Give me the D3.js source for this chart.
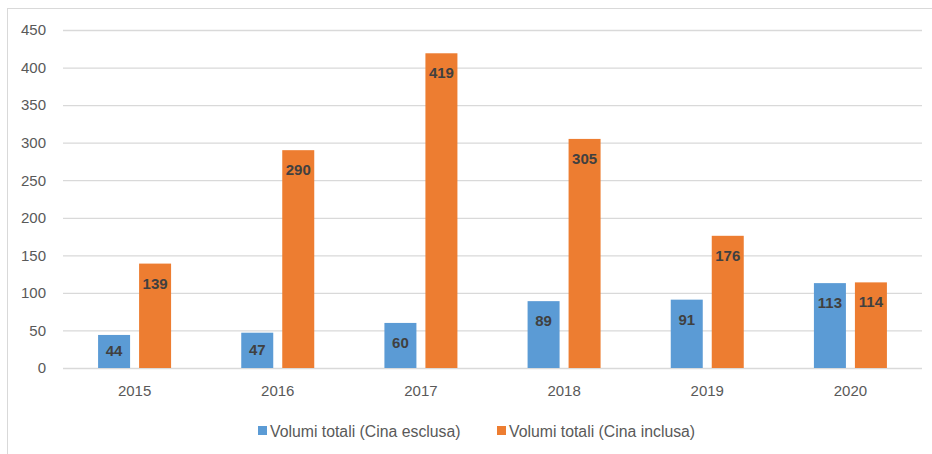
<!DOCTYPE html>
<html>
  <head>
    <meta charset="utf-8">
    <title>Volumi totali</title>
    <style>
      body { margin: 0; background: #fff; }
      text { font-family: "Liberation Sans", Arial, sans-serif; }
      .tick text { fill: #595959; font-size: 15px; }
      .bar-label { font-size: 15px; font-weight: bold; fill: #404040; text-anchor: middle; }
      .legend text { font-size: 15.8px; fill: #595959; }
    </style>
  </head>
  <body>
    <div id="chart"></div>
    <script src="https://d3js.org/d3.v7.min.js"></script>
    <script>
    // data
    var years = ['2015', '2016', '2017', '2018', '2019', '2020'];
    var esclusa = [44, 47, 60, 89, 91, 113];
    var inclusa = [139, 290, 419, 305, 176, 114];
    var seriesNames = ['Volumi totali (Cina esclusa)', 'Volumi totali (Cina inclusa)'];
    var colors = ['#5B9BD5', '#ED7D31'];
    var yTicks = [0, 50, 100, 150, 200, 250, 300, 350, 400, 450];

    function drawChart() {
      var width = 932, height = 454;
      var m = { left: 63, right: 922, top: 30, bottom: 368 };

      var svg = d3.select('#chart').append('svg')
        .attr('width', width)
        .attr('height', height);

      // outer frame (only top and left edges show)
      svg.append('rect')
        .attr('x', 7.5).attr('y', 8.5)
        .attr('width', 940).attr('height', 460)
        .attr('fill', 'none')
        .attr('stroke', '#d9d9d9')
        .attr('stroke-width', 1);

      var x = d3.scaleBand().domain(years).range([m.left, m.right]);
      var y = d3.scaleLinear().domain([0, 450]).range([m.bottom, m.top]);

      // gridlines + y labels
      var yAxis = svg.append('g')
        .attr('transform', 'translate(' + m.left + ',0)')
        .call(d3.axisLeft(y).tickValues(yTicks).tickSize(-(m.right - m.left)).tickPadding(17));
      yAxis.select('.domain').remove();
      yAxis.selectAll('.tick line').attr('stroke', '#d9d9d9').attr('stroke-width', 1.3);

      var xAxis = svg.append('g')
        .attr('transform', 'translate(0,' + m.bottom + ')')
        .call(d3.axisBottom(x).tickSize(0).tickPadding(17));
      xAxis.select('.domain').remove();

      var barW = 32, gap = 9;
      var series = [esclusa, inclusa];

      series.forEach(function(vals, s) {
        var g = svg.append('g');
        var data = years.map(function(yr, i) { return { year: yr, v: vals[i] }; });
        var offset = s === 0 ? -(gap / 2 + barW) : gap / 2;
        g.selectAll('rect')
          .data(data)
          .enter().append('rect')
          .attr('x', function(d) { return x(d.year) + x.bandwidth() / 2 + offset; })
          .attr('y', function(d) { return y(d.v); })
          .attr('width', barW)
          .attr('height', function(d) { return m.bottom - y(d.v); })
          .attr('fill', colors[s]);
        g.selectAll('text')
          .data(data)
          .enter().append('text')
          .attr('class', 'bar-label')
          .attr('x', function(d) { return x(d.year) + x.bandwidth() / 2 + offset + barW / 2; })
          .attr('y', function(d) {
            var h = m.bottom - y(d.v);
            return y(d.v) + Math.min(20, h / 2) + 5;
          })
          .text(function(d) { return d.v; });
      });

      // legend
      var legend = svg.append('g').attr('class', 'legend');
      var legX = [258, 497];
      seriesNames.forEach(function(name, i) {
        legend.append('rect')
          .attr('x', legX[i]).attr('y', 426)
          .attr('width', 9).attr('height', 9)
          .attr('fill', colors[i]);
        legend.append('text')
          .attr('x', legX[i] + 12).attr('y', 436.5)
          .text(name);
      });
    }
    drawChart();
    </script>
  </body>
</html>
